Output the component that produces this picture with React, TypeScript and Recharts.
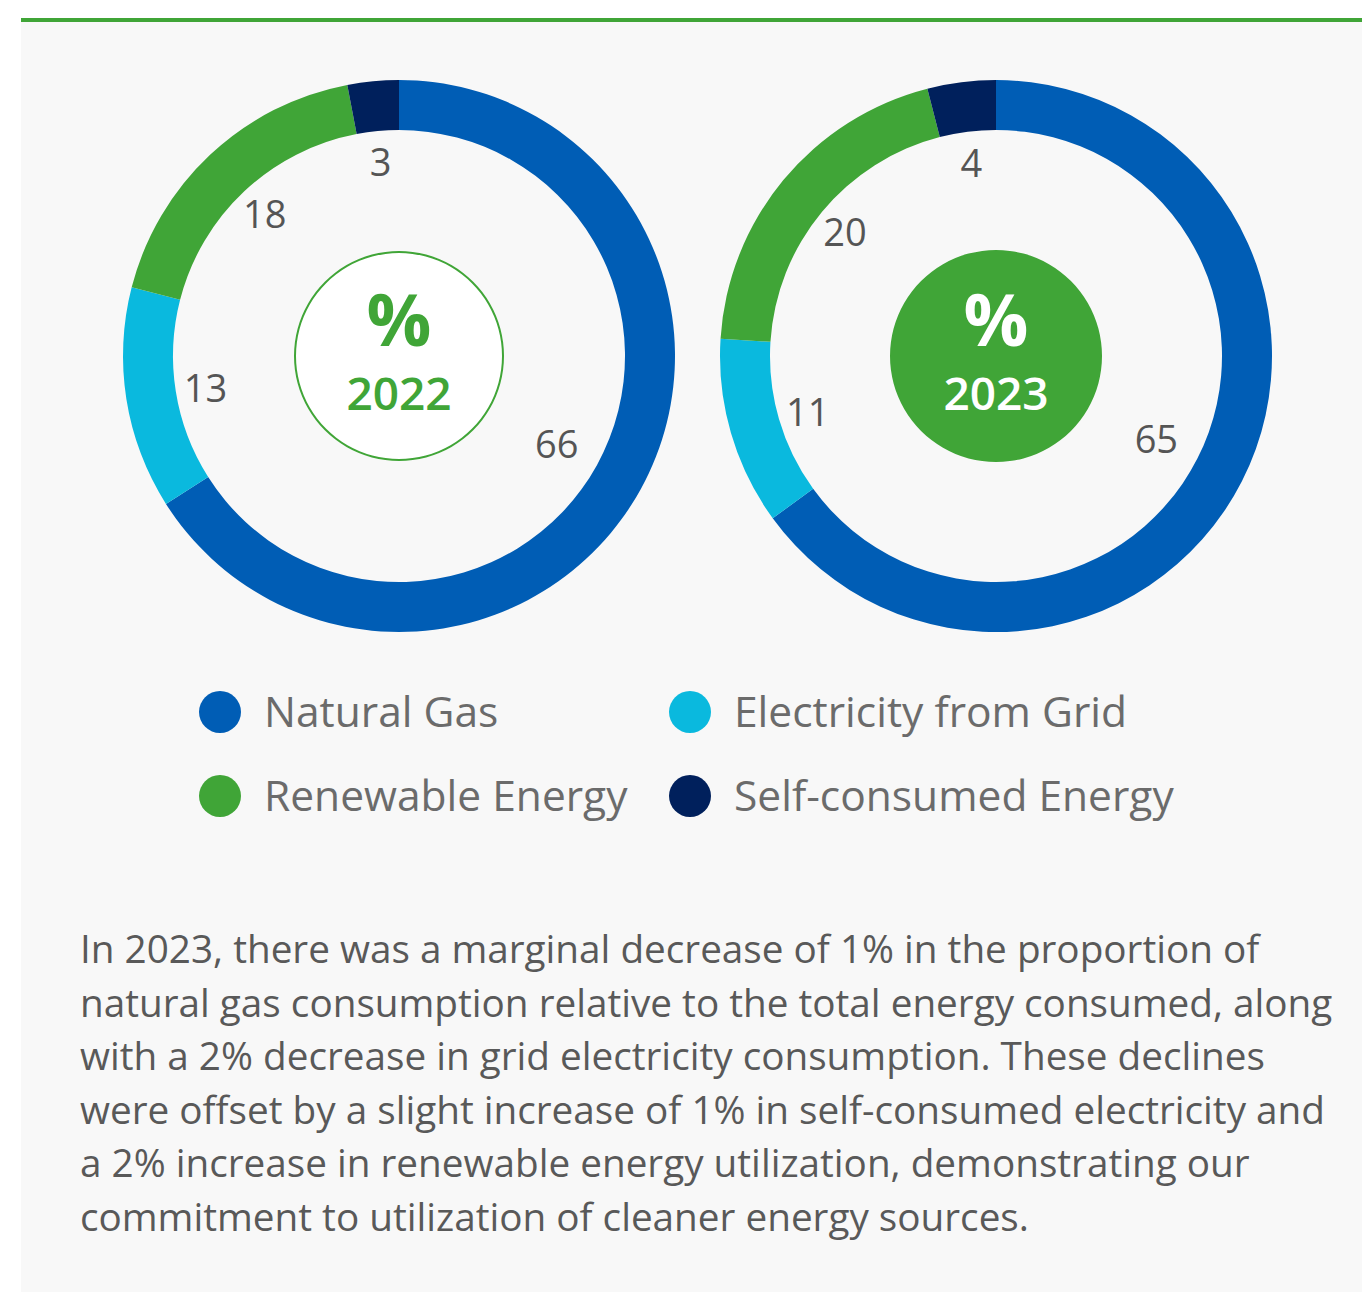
import React from "react";
import { PieChart, Pie, Cell } from "recharts";

const categories = ["Natural Gas", "Electricity from Grid", "Renewable Energy", "Self-consumed Energy"];
const values2022 = [66, 13, 18, 3];
const values2023 = [65, 11, 20, 4];
const years = ["2022", "2023"];
const colors = ["#005db5", "#0ab9de", "#40a537", "#00205c"];
const GREEN = "#40a537";

const paragraph = [
  "In 2023, there was a marginal decrease of 1% in the proportion of",
  "natural gas consumption relative to the total energy consumed, along",
  "with a 2% decrease in grid electricity consumption. These declines",
  "were offset by a slight increase of 1% in self-consumed electricity and",
  "a 2% increase in renewable energy utilization, demonstrating our",
  "commitment to utilization of cleaner energy sources.",
];

const FONT = "'Open Sans', sans-serif";
const RADIAN = Math.PI / 180;

const toRows = (vals: number[]) => categories.map((name, i) => ({ name, value: vals[i] }));

const renderLabel = (props: any) => {
  const { cx, cy, midAngle, value } = props;
  // the big slice's label sits a bit further in
  const r = value > 50 ? 180 : 196;
  const x = cx + r * Math.cos(-midAngle * RADIAN);
  const y = cy + r * Math.sin(-midAngle * RADIAN);
  return (
    <text x={x} y={y} fill="#555" fontSize={38} fontFamily={FONT} textAnchor="middle" dominantBaseline="central">
      {value}
    </text>
  );
};

// center badge text, drawn as the label of the single-slice pie
const centerLabel = (filled: boolean) => (props: any) => {
  const { cx, cy, name } = props;
  const fill = filled ? "#fff" : GREEN;
  return (
    <g>
      <text x={cx} y={cy - 38} fill={fill} fontSize={72} fontWeight={700} fontFamily={FONT} textAnchor="middle" dominantBaseline="central">
        %
      </text>
      <text x={cx} y={cy + 36} fill={fill} fontSize={46} fontWeight={600} fontFamily={FONT} textAnchor="middle" dominantBaseline="central">
        {name}
      </text>
    </g>
  );
};

export default function App() {
  const d22 = toRows(values2022);
  const d23 = toRows(values2023);
  const c22 = [{ name: years[0], value: 1 }];
  const c23 = [{ name: years[1], value: 1 }];
  return (
    <div style={{ position: "absolute", left: 0, top: 0, width: 1362, height: 1292, background: "#fff", fontFamily: FONT }}>
      <div style={{ position: "absolute", left: 21, top: 18, width: 1341, height: 1274, background: "#f8f8f8", borderTop: `4px solid ${GREEN}`, boxSizing: "border-box" }} />
      <div style={{ position: "absolute", left: 0, top: 0 }}>
        <PieChart width={1362} height={660} margin={{ top: 0, right: 0, bottom: 0, left: 0 }}>
          <Pie data={d22} dataKey="value" nameKey="name" cx={399} cy={356} innerRadius={226} outerRadius={276}
            startAngle={90} endAngle={-270} stroke="none" label={renderLabel} labelLine={false} isAnimationActive={false}>
            {d22.map((_, i) => <Cell key={i} fill={colors[i]} />)}
          </Pie>
          <Pie data={c22} dataKey="value" nameKey="name" cx={399} cy={356} innerRadius={0} outerRadius={105}
            fill="#fff" stroke="none" label={centerLabel(false)} labelLine={false} isAnimationActive={false} />
          <Pie data={c22} dataKey="value" cx={399} cy={356} innerRadius={103} outerRadius={105}
            fill={GREEN} stroke="none" isAnimationActive={false} />
          <Pie data={d23} dataKey="value" nameKey="name" cx={996} cy={356} innerRadius={226} outerRadius={276}
            startAngle={90} endAngle={-270} stroke="none" label={renderLabel} labelLine={false} isAnimationActive={false}>
            {d23.map((_, i) => <Cell key={i} fill={colors[i]} />)}
          </Pie>
          <Pie data={c23} dataKey="value" nameKey="name" cx={996} cy={356} innerRadius={0} outerRadius={106}
            fill={GREEN} stroke="none" label={centerLabel(true)} labelLine={false} isAnimationActive={false} />
        </PieChart>
      </div>
      {categories.map((c, i) => {
        const col = i % 2;
        const row = Math.floor(i / 2);
        return (
          <div key={c} style={{ position: "absolute", left: 199 + col * 470, top: 712 + row * 84 - 30, height: 60, display: "flex", alignItems: "center" }}>
            <span style={{ width: 42, height: 42, borderRadius: "50%", background: colors[i], display: "inline-block" }} />
            <span style={{ marginLeft: 23, marginTop: -4, fontSize: 42.5, color: "#6b6b6b", whiteSpace: "nowrap" }}>{c}</span>
          </div>
        );
      })}
      <div style={{ position: "absolute", left: 80, top: 922, fontSize: 38.7, lineHeight: "53.6px", color: "#595959", whiteSpace: "nowrap" }}>
        {paragraph.map((l, i) => <div key={i}>{l}</div>)}
      </div>
    </div>
  );
}
